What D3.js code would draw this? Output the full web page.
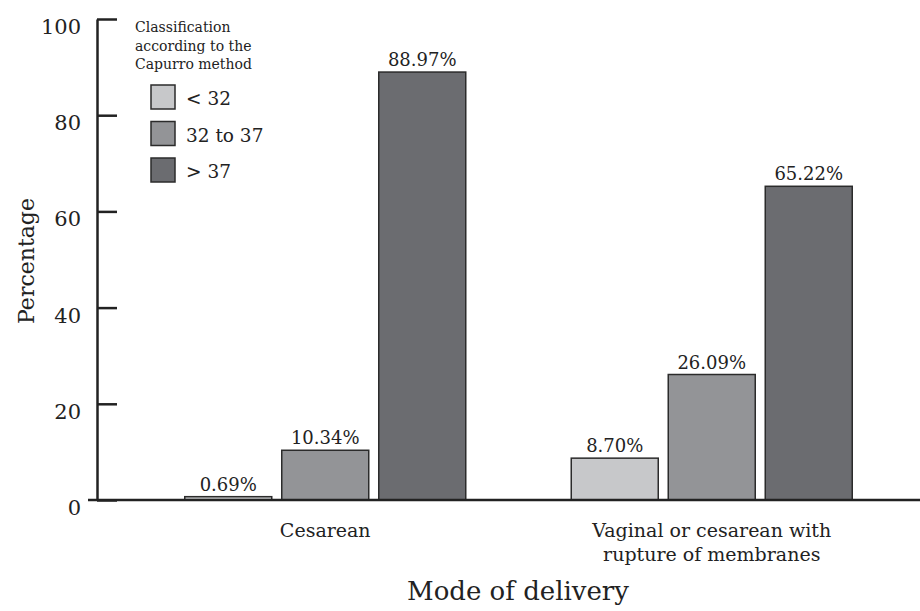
<!DOCTYPE html>
<html><head><meta charset="utf-8">
<script src="https://cdn.jsdelivr.net/npm/d3@7"></script>
<style>body{margin:0;background:#fff}svg{display:block}text{font-family:"DejaVu Serif",serif;fill:#222}</style>
</head><body>
<svg id="c" width="920" height="611"></svg>
<script>
const categories = ["Cesarean", "Vaginal or cesarean with|rupture of membranes"];
const series = ["< 32", "32 to 37", "> 37"];
const values = [
  [0.69, 10.34, 88.97],
  [8.70, 26.09, 65.22]
];
const yTicks = [0, 20, 40, 60, 80, 100];
const legendTitle = ["Classification", "according to the", "Capurro method"];
const colors = ["#c7c8ca", "#939497", "#6b6c70"];

const svg = d3.select("#c");
const y = d3.scaleLinear().domain([0, 100]).range([500, 19]);
const x0 = d3.scaleBand().domain(categories).range([132, 905]);
const x1 = d3.scaleBand().domain(series).range([0, 281]).paddingInner(10/97).paddingOuter(0);

// bars
categories.forEach((cat, ci) => {
  const cx = x0(cat) + x0.bandwidth()/2 - 140.5;
  const g = svg.append("g").attr("transform", `translate(${cx},0)`);
  series.forEach((s, si) => {
    const v = values[ci][si];
    g.append("rect").attr("x", x1(s)).attr("y", y(v))
      .attr("width", x1.bandwidth()).attr("height", y(0) - y(v))
      .attr("fill", colors[si]).attr("stroke", "#2b2b2b").attr("stroke-width", 1.5);
    g.append("text").attr("x", x1(s) + x1.bandwidth()/2).attr("y", y(v) - 6)
      .attr("text-anchor", "middle").attr("font-size", 18).text(v.toFixed(2) + "%");
  });
  const lines = cat.split("|");
  lines.forEach((l, li) => {
    svg.append("text").attr("x", x0(cat) + x0.bandwidth()/2).attr("y", 537 + li*24)
      .attr("text-anchor", "middle").attr("font-size", 19).text(l);
  });
});

// x baseline
svg.append("line").attr("x1", 88).attr("x2", 920).attr("y1", y(0)).attr("y2", y(0))
  .attr("stroke", "#222").attr("stroke-width", 2.5);

// y axis
const yAxis = svg.append("g").attr("transform", "translate(97,0)")
  .call(d3.axisRight(y).tickValues(yTicks).tickSize(20).tickSizeOuter(0).tickFormat(""));
yAxis.select(".domain").attr("stroke", "#222").attr("stroke-width", 2.5);
yAxis.selectAll(".tick line").attr("stroke", "#222").attr("stroke-width", 2.5);
yTicks.forEach(t => {
  svg.append("text").attr("x", 81).attr("y", y(t) + 15)
    .attr("text-anchor", "end").attr("font-size", 21).text(t);
});

// axis titles
svg.append("text").attr("transform", "translate(34,261) rotate(-90)")
  .attr("text-anchor", "middle").attr("font-size", 22).text("Percentage");
svg.append("text").attr("x", 518).attr("y", 600)
  .attr("text-anchor", "middle").attr("font-size", 26).text("Mode of delivery");

// legend
legendTitle.forEach((l, i) => {
  svg.append("text").attr("x", 135).attr("y", 32 + i*18.5).attr("font-size", 14).text(l);
});
series.forEach((s, i) => {
  const yy = 85 + i*36.5;
  svg.append("rect").attr("x", 151).attr("y", yy).attr("width", 24).attr("height", 24)
    .attr("fill", colors[i]).attr("stroke", "#2b2b2b").attr("stroke-width", 1.5);
  svg.append("text").attr("x", 186).attr("y", yy + 20).attr("font-size", 18.5).text(s);
});
</script>
</body></html>
